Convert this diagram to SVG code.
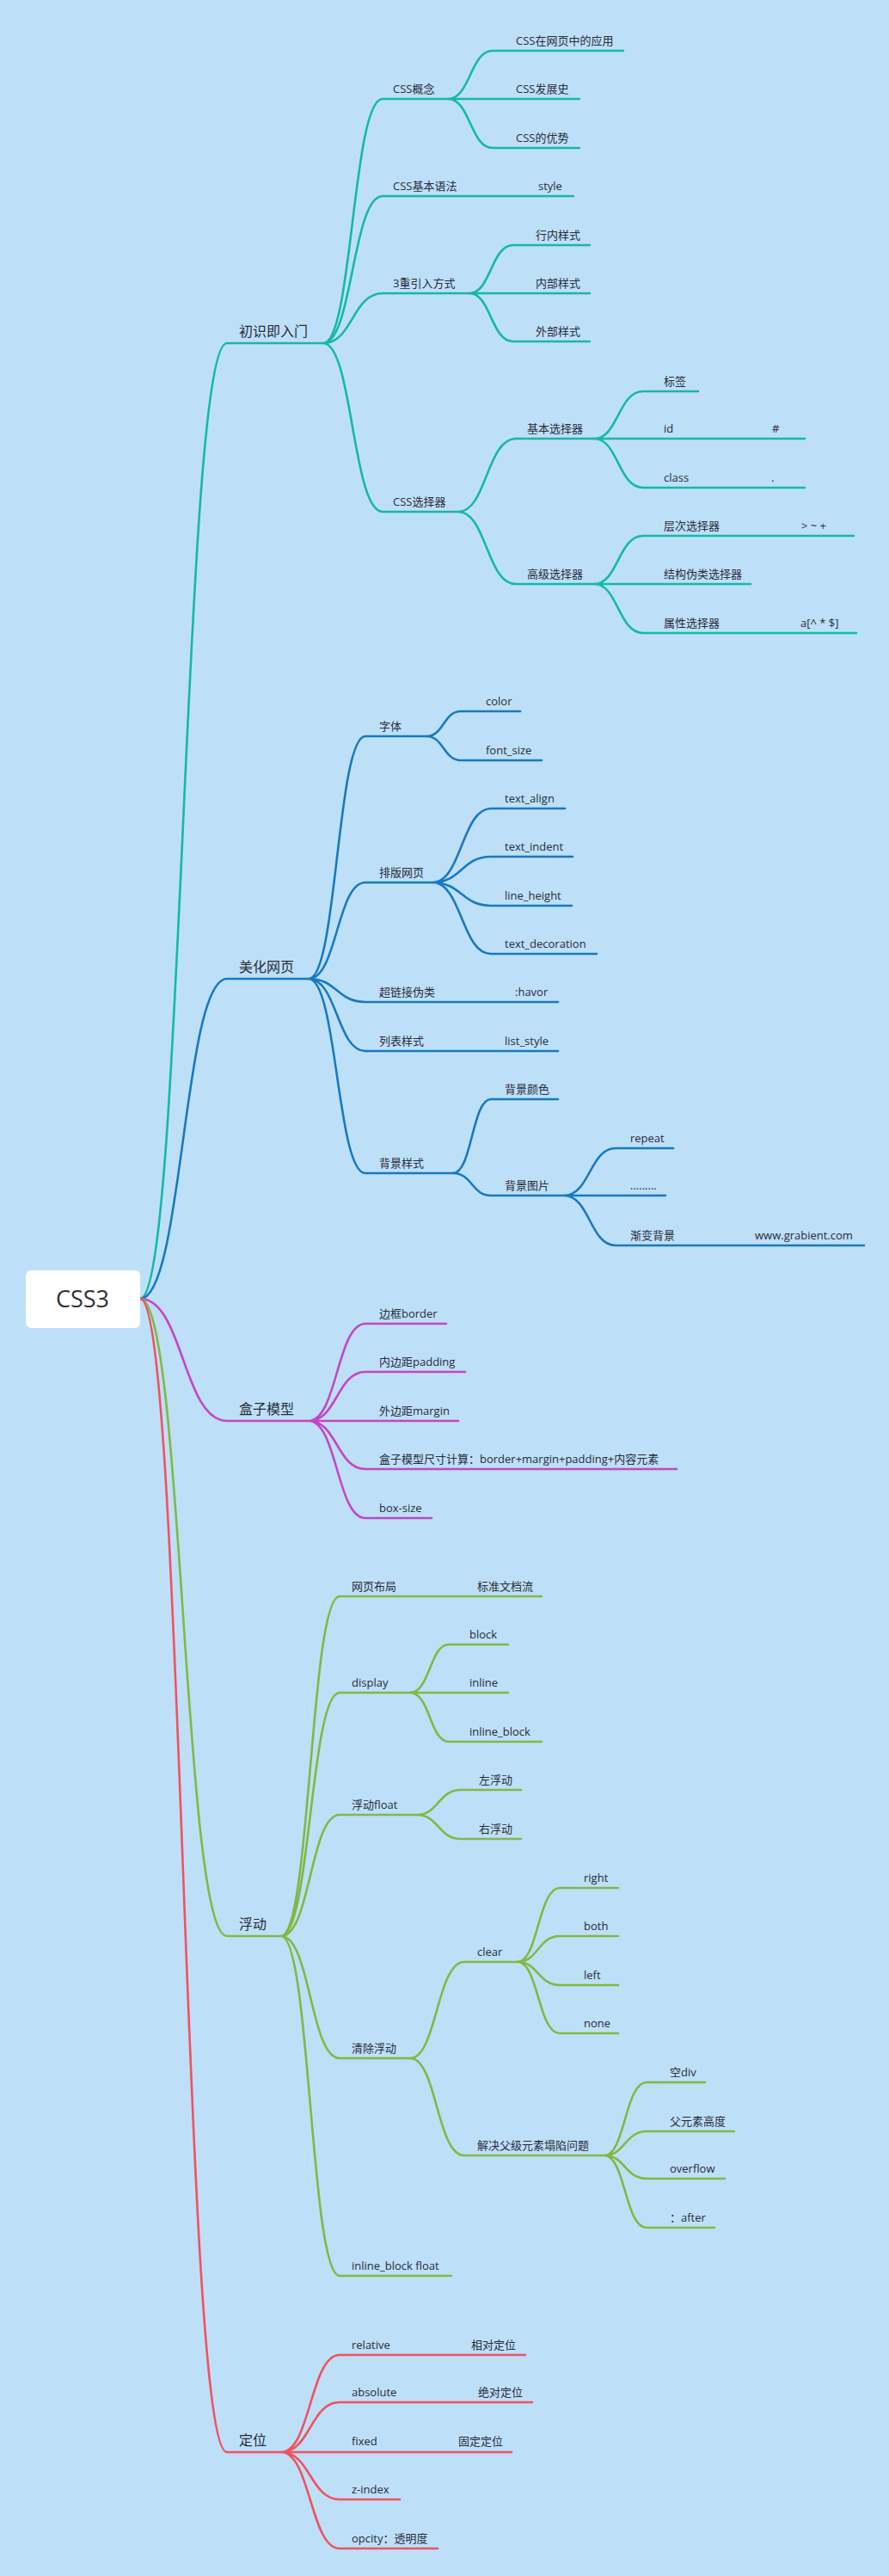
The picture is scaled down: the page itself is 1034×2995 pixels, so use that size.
<svg xmlns="http://www.w3.org/2000/svg" width="1034" height="2995" viewBox="0 0 1034 2995">
<style>
text{font-family:"Open Sans","Noto Sans CJK SC",sans-serif;font-size:13px;fill:#2a2a38}
.l1{font-size:16px}
.root{font-size:27px;fill:#333}
path{fill:none;stroke-width:2.6;stroke-linecap:round}
.t{stroke:#16b8a8}.b{stroke:#1779c2}.m{stroke:#c445c8}.g{stroke:#82b843}.r{stroke:#f2515e}
</style>
<rect width="1034" height="2995" fill="#bde0f8"/>
<g id="connectors">
<path class="t" d="M163 1510C213 1510 213 399 264 399H376"/>
<path class="b" d="M163 1510C213 1510 213 1138 264 1138H359"/>
<path class="m" d="M163 1510C213 1510 213 1652 264 1652H359"/>
<path class="g" d="M163 1510C213 1510 213 2251 264 2251H327"/>
<path class="r" d="M163 1510C213 1510 213 2851 264 2851H327"/>
<path class="t" d="M376 399C410 399 410 115 445 115H521M376 399C410 399 410 228 445 228H667M376 399C410 399 410 341 445 341H546M376 399C410 399 410 595 445 595H533"/>
<path class="t" d="M521 115C547 115 547 59 573 59H725M521 115H674M521 115C547 115 547 172 573 172H674"/>
<path class="t" d="M546 341C571 341 571 285 597 285H686M546 341H686M546 341C571 341 571 397 597 397H686"/>
<path class="t" d="M533 595C566 595 566 510 600 510H691M533 595C566 595 566 679 600 679H691"/>
<path class="t" d="M691 510C719 510 719 455 748 455H812M691 510H936M691 510C719 510 719 567 748 567H936"/>
<path class="t" d="M691 679C719 679 719 623 748 623H993M691 679H873M691 679C719 679 719 736 748 736H996"/>
<path class="b" d="M359 1138C392 1138 392 856 425 856H496M359 1138C392 1138 392 1026 425 1026H503M359 1138C392 1138 392 1165 425 1165H649M359 1138C392 1138 392 1222 425 1222H649M359 1138C392 1138 392 1364 425 1364H527"/>
<path class="b" d="M496 856C516 856 516 827 536 827H605M496 856C516 856 516 884 536 884H630"/>
<path class="b" d="M503 1026C537 1026 537 940 571 940H657M503 1026C537 1026 537 996 571 996H666M503 1026C537 1026 537 1053 571 1053H665M503 1026C537 1026 537 1109 571 1109H694"/>
<path class="b" d="M527 1364C549 1364 549 1278 571 1278H649M527 1364C549 1364 549 1390 571 1390H656"/>
<path class="b" d="M656 1390C686 1390 686 1335 716 1335H783M656 1390H774M656 1390C686 1390 686 1448 716 1448H1005"/>
<path class="m" d="M359 1652C392 1652 392 1539 425 1539H519M359 1652C392 1652 392 1595 425 1595H541M359 1652H533M359 1652C392 1652 392 1708 425 1708H787M359 1652C392 1652 392 1765 425 1765H502"/>
<path class="g" d="M327 2251C361 2251 361 1856 395 1856H630M327 2251C361 2251 361 1968 395 1968H477M327 2251C361 2251 361 2110 395 2110H485M327 2251C361 2251 361 2393 395 2393H477M327 2251C361 2251 361 2646 395 2646H525"/>
<path class="g" d="M477 1968C500 1968 500 1912 522 1912H591M477 1968H591M477 1968C500 1968 500 2025 522 2025H630"/>
<path class="g" d="M485 2110C510 2110 510 2081 536 2081H606M485 2110C510 2110 510 2138 536 2138H606"/>
<path class="g" d="M477 2393C508 2393 508 2281 540 2281H602M477 2393C508 2393 508 2506 540 2506H703"/>
<path class="g" d="M602 2281C626 2281 626 2195 651 2195H719M602 2281C626 2281 626 2251 651 2251H719M602 2281C626 2281 626 2308 651 2308H719M602 2281C626 2281 626 2364 651 2364H719"/>
<path class="g" d="M703 2506C727 2506 727 2421 752 2421H820M703 2506C727 2506 727 2478 752 2478H854M703 2506C727 2506 727 2533 752 2533H843M703 2506C727 2506 727 2590 752 2590H831"/>
<path class="r" d="M327 2851C361 2851 361 2738 395 2738H611M327 2851C361 2851 361 2793 395 2793H619M327 2851H595M327 2851C361 2851 361 2906 395 2906H465M327 2851C361 2851 361 2963 395 2963H509"/>
</g>
<g id="root"><rect x="30" y="1477" width="133" height="67" rx="6" fill="#fff"/><text class="root" x="96" y="1520" text-anchor="middle">CSS3</text></g>
<g id="n1"><text class="l1" x="278" y="391">初识即入门</text></g>
<g id="n2"><text x="457" y="108">CSS概念</text><text x="600" y="52">CSS在网页中的应用</text><text x="600" y="108">CSS发展史</text><text x="600" y="165">CSS的优势</text></g>
<g id="n3"><text x="457" y="221">CSS基本语法</text><text x="626" y="221">style</text></g>
<g id="n4"><text x="457" y="334">3重引入方式</text><text x="623" y="278">行内样式</text><text x="623" y="334">内部样式</text><text x="623" y="390">外部样式</text></g>
<g id="n5"><text x="457" y="588">CSS选择器</text><text x="613" y="503">基本选择器</text><text x="772" y="448">标签</text><text x="772" y="503">id</text><text x="898" y="503">#</text><text x="772" y="560">class</text><text x="897" y="560">.</text>
<text x="613" y="672">高级选择器</text><text x="772" y="616">层次选择器</text><text x="932" y="616">&gt;  ~   +</text><text x="772" y="672">结构伪类选择器</text><text x="772" y="729">属性选择器</text><text x="931" y="729">a[^  *  $]</text></g>
<g id="n6"><text class="l1" x="278" y="1130">美化网页</text>
<text x="441" y="849">字体</text><text x="565" y="820">color</text><text x="565" y="877">font_size</text>
<text x="441" y="1019">排版网页</text><text x="587" y="933">text_align</text><text x="587" y="989">text_indent</text><text x="587" y="1046">line_height</text><text x="587" y="1102">text_decoration</text>
<text x="441" y="1158">超链接伪类</text><text x="599" y="1158">:havor</text>
<text x="441" y="1215">列表样式</text><text x="587" y="1215">list_style</text>
<text x="441" y="1357">背景样式</text><text x="587" y="1271">背景颜色</text><text x="587" y="1383">背景图片</text><text x="733" y="1328">repeat</text><text x="733" y="1383">.........</text><text x="733" y="1441">渐变背景</text><text x="878" y="1441">www.grabient.com</text></g>
<g id="n7"><text class="l1" x="278" y="1644">盒子模型</text>
<text x="441" y="1532">边框border</text><text x="441" y="1588">内边距padding</text><text x="441" y="1645">外边距margin</text><text x="441" y="1701">盒子模型尺寸计算：border+margin+padding+内容元素</text><text x="441" y="1758">box-size</text></g>
<g id="n8"><text class="l1" x="278" y="2243">浮动</text>
<text x="409" y="1849">网页布局</text><text x="555" y="1849">标准文档流</text>
<text x="409" y="1961">display</text><text x="546" y="1905">block</text><text x="546" y="1961">inline</text><text x="546" y="2018">inline_block</text>
<text x="409" y="2103">浮动float</text><text x="557" y="2074">左浮动</text><text x="557" y="2131">右浮动</text>
<text x="409" y="2386">清除浮动</text><text x="555" y="2274">clear</text><text x="679" y="2188">right</text><text x="679" y="2244">both</text><text x="679" y="2301">left</text><text x="679" y="2357">none</text>
<text x="555" y="2499">解决父级元素塌陷问题</text><text x="779" y="2414">空div</text><text x="779" y="2471">父元素高度</text><text x="779" y="2526">overflow</text><text x="779" y="2583">：after</text>
<text x="409" y="2639">inline_block float</text></g>
<g id="n9"><text class="l1" x="278" y="2843">定位</text>
<text x="409" y="2731">relative</text><text x="548" y="2731">相对定位</text><text x="409" y="2786">absolute</text><text x="556" y="2786">绝对定位</text><text x="409" y="2843">fixed</text><text x="533" y="2843">固定定位</text><text x="409" y="2899">z-index</text><text x="409" y="2956">opcity：透明度</text></g>
</svg>
